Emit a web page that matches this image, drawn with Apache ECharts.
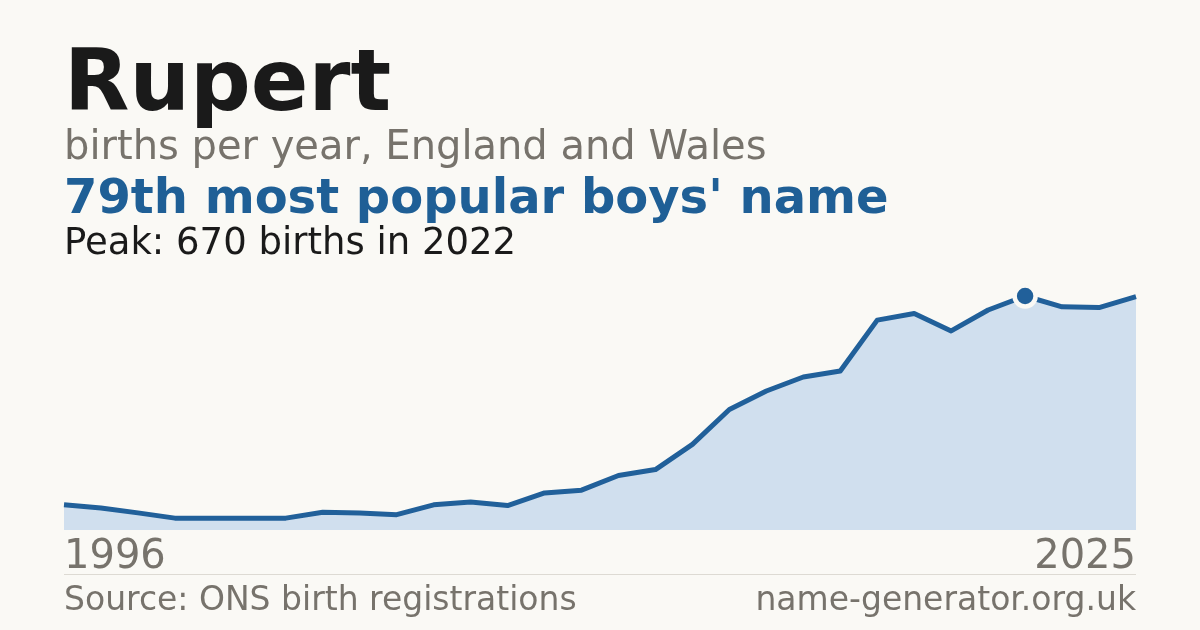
<!DOCTYPE html>
<html>
<head>
<meta charset="utf-8">
<title>Rupert</title>
<script src="https://cdn.jsdelivr.net/npm/echarts@6/dist/echarts.min.js"></script>
<style>
  html, body { margin: 0; padding: 0; background: #faf9f5; }
  #chart { width: 1200px; height: 630px; }
</style>
</head>
<body>
<div id="chart"></div>
<script>
// 年份与出生人数
var years = ['1996','1997','1998','1999','2000','2001','2002','2003','2004','2005',
             '2006','2007','2008','2009','2010','2011','2012','2013','2014','2015',
             '2016','2017','2018','2019','2020','2021','2022','2023','2024','2025'];
var births = [72, 63, 49, 34, 34, 34, 34, 51, 49, 44,
              72, 80, 70, 106, 114, 156, 173, 245, 345, 398,
              438, 455, 601, 620, 570, 630, 670, 639, 637, 668];

var titleText = 'Rupert';
var subText = 'births per year, England and Wales';
var rankText = "79th most popular boys' name";
var peakText = 'Peak: 670 births in 2022';
var sourceText = 'Source: ONS birth registrations';
var siteText = 'name-generator.org.uk';

var font = 'DejaVu Sans';
var grey = '#77736c';
var blue = '#21609a';
var bg = '#faf9f5';

var myChart = echarts.init(document.getElementById('chart'));

var option = {
    backgroundColor: bg,
    animation: false,
    grid: { left: 64, right: 64, top: 296, bottom: 100, containLabel: false },
    xAxis: {
        type: 'category',
        data: years,
        boundaryGap: false,
        axisLine: { show: false },
        axisTick: { show: false },
        axisLabel: {
            interval: function (i) { return i === 0 || i === years.length - 1; },
            showMinLabel: true,
            showMaxLabel: true,
            alignMinLabel: 'left',
            alignMaxLabel: 'right',
            fontFamily: font,
            fontSize: 40,
            color: grey,
            margin: 8
        }
    },
    yAxis: {
        type: 'value',
        min: 0,
        max: 670,
        show: false,
        splitLine: { show: false }
    },
    series: [{
        type: 'line',
        data: births,
        symbol: 'none',
        lineStyle: { color: blue, width: 5, join: 'round' },
        areaStyle: { color: '#d0dfee', opacity: 1 },
        // 峰值标记
        markPoint: {
            data: [{ type: 'max' }],
            symbol: 'circle',
            symbolSize: 21,
            itemStyle: { color: blue, borderColor: bg, borderWidth: 4.5 },
            label: { show: false }
        }
    }],
    graphic: [
        { type: 'text', left: 64, top: 45,
          style: { text: titleText, font: 'bold 85px "DejaVu Sans"', fill: '#1a1a1a' } },
        { type: 'text', left: 64, top: 129,
          style: { text: subText, font: '40px "DejaVu Sans"', fill: grey } },
        { type: 'text', left: 64, top: 177,
          style: { text: rankText, font: 'bold 48px "DejaVu Sans"', fill: '#1f5f96' } },
        { type: 'text', left: 64, top: 226,
          style: { text: peakText, font: '37px "DejaVu Sans"', fill: '#1a1a1a' } },
        { type: 'line', shape: { x1: 64, y1: 574.5, x2: 1136, y2: 574.5 },
          style: { stroke: '#dddad3', lineWidth: 1 } },
        { type: 'text', left: 64, top: 585,
          style: { text: sourceText, font: '33px "DejaVu Sans"', fill: grey } },
        { type: 'text', right: 64, top: 585,
          style: { text: siteText, font: '33px "DejaVu Sans"', fill: grey } }
    ]
};

myChart.setOption(option);
</script>
</body>
</html>
